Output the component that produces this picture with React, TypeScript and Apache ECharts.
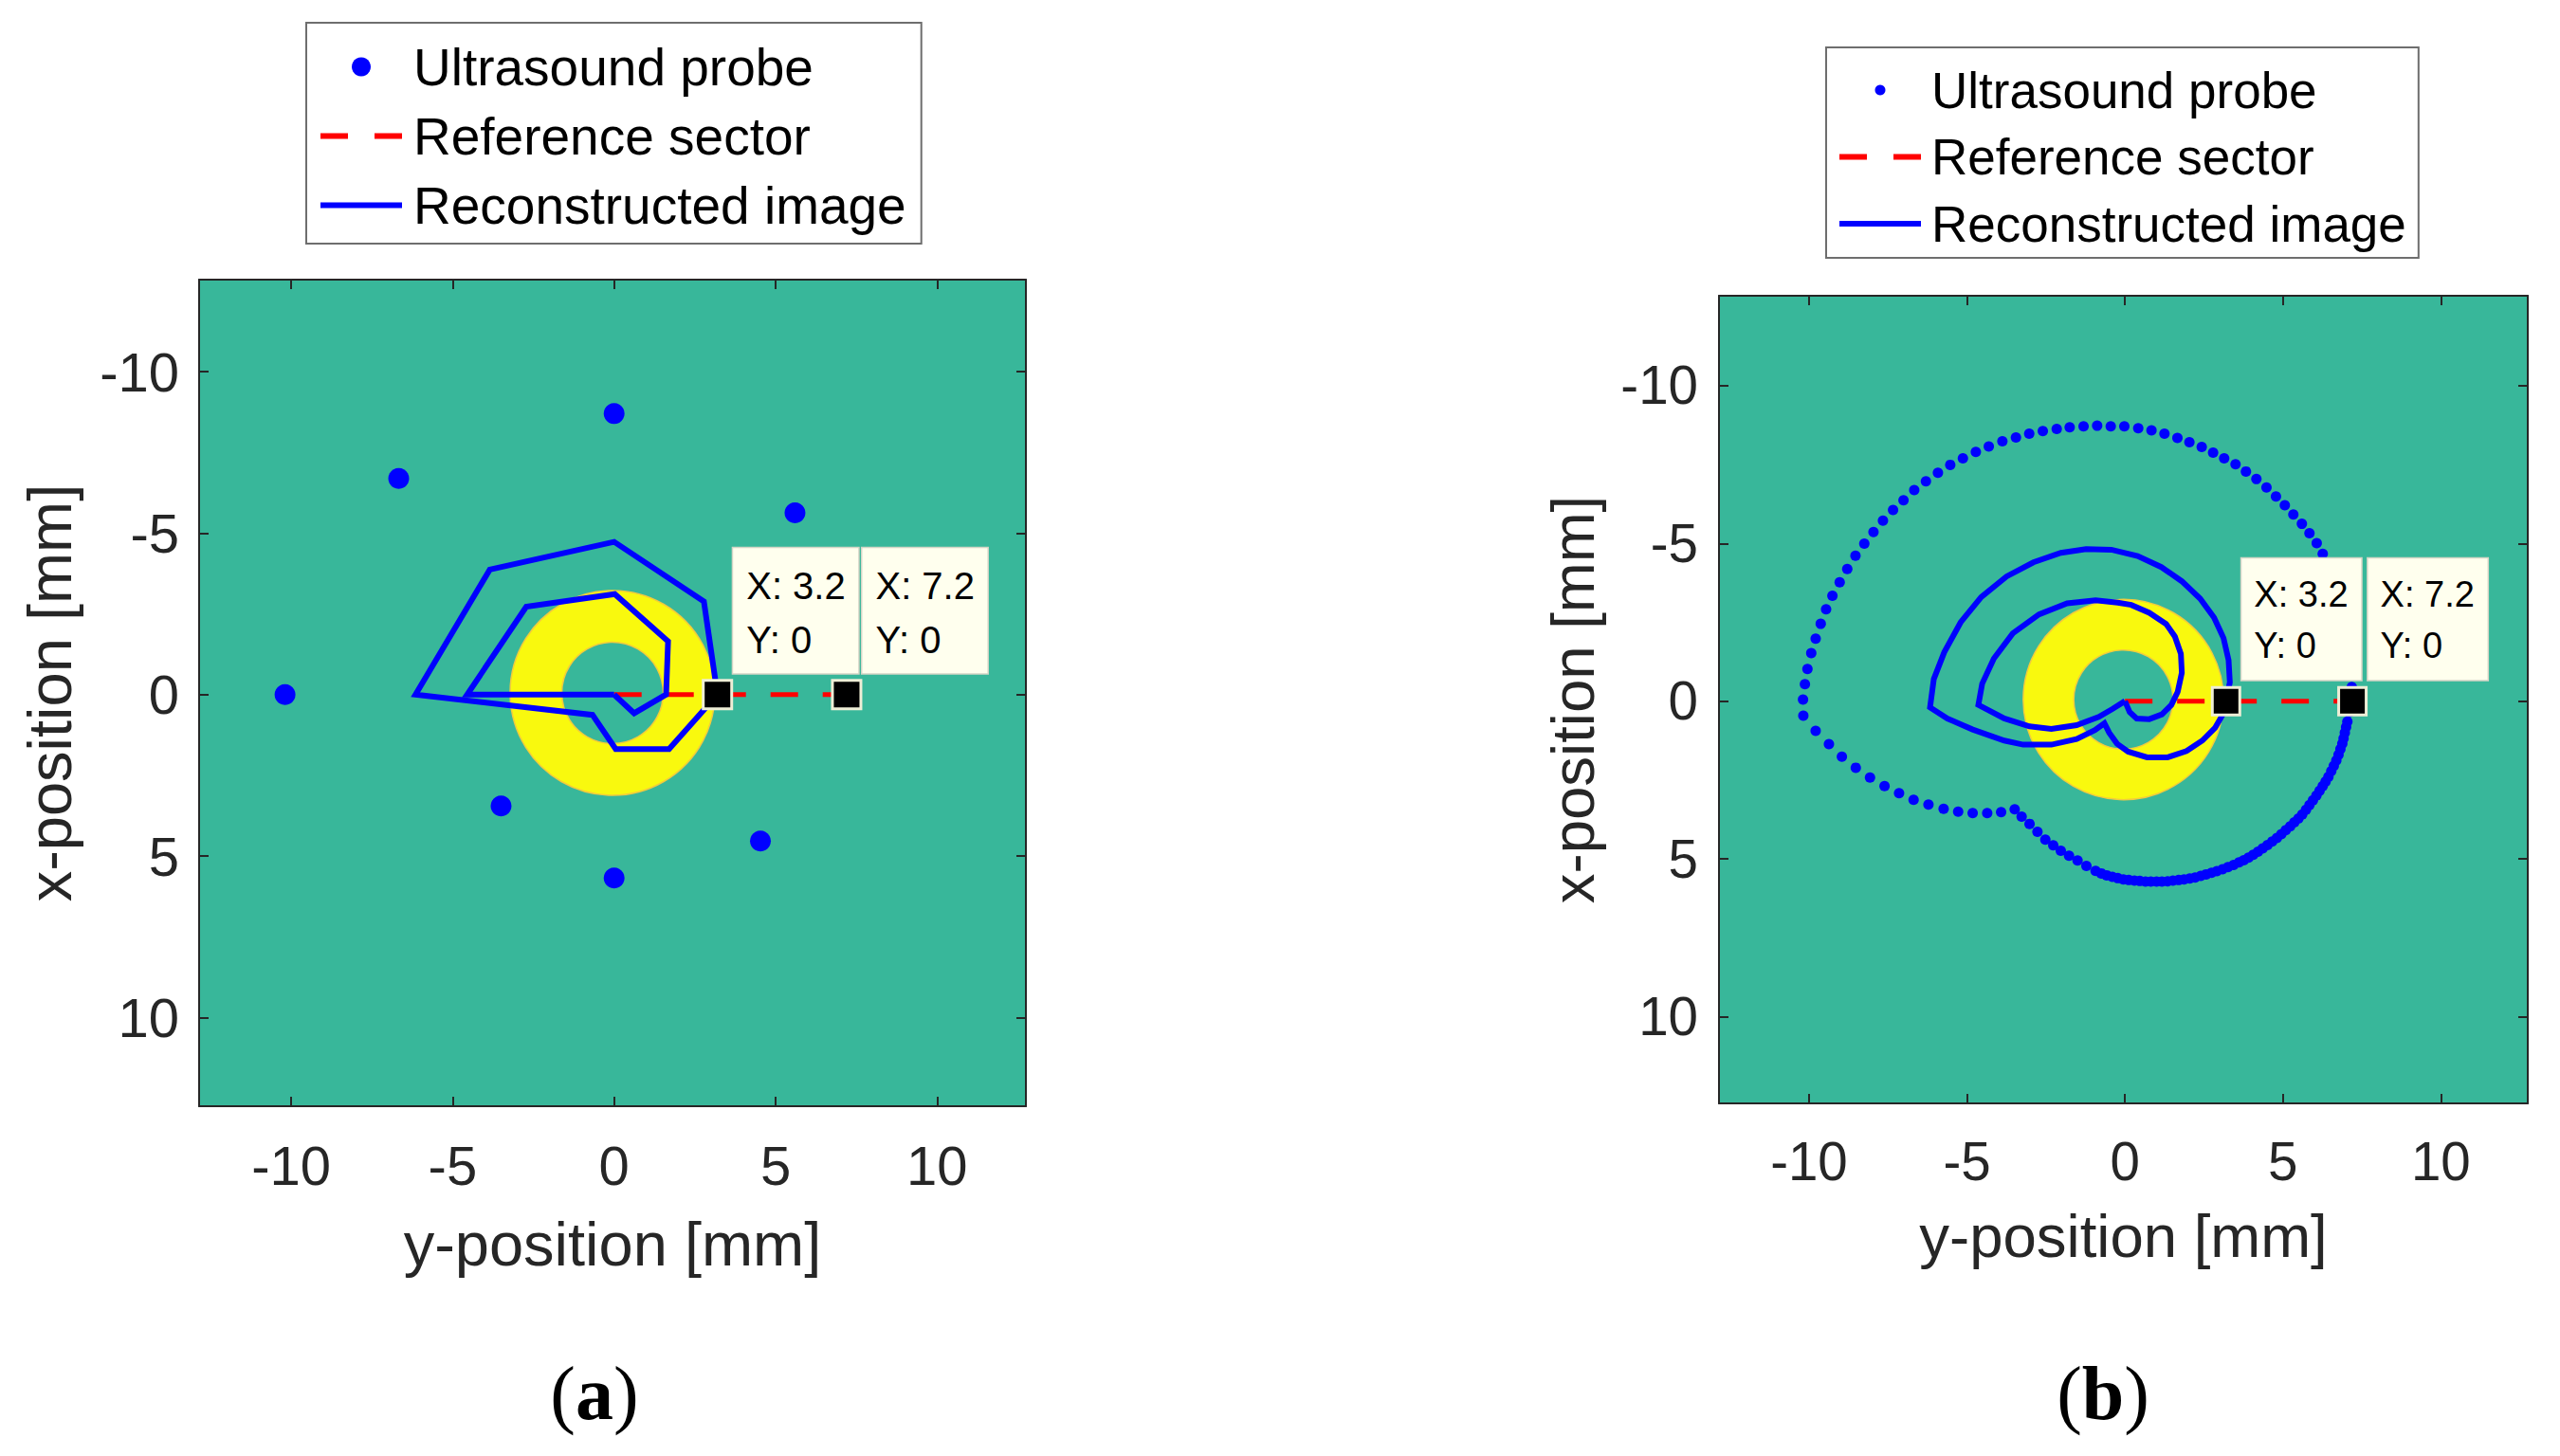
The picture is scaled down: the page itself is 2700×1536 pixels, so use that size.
import React, { useEffect, useRef } from "react";
import * as echarts from "echarts";

// ---------------- data ----------------
const AXIS_MIN = -12.85;
const AXIS_MAX = 12.75;
const TICK_VALUES = [-10, -5, 0, 5, 10];

// ring image: centre y, centre x, outer radius, inner radius (mm)
const ringImage = [[-0.05, -0.05, 3.17, 1.57]];

// reference sector end points and data tips
const referenceSector = [[0, 0], [7.2, 0]];
const dataTips = [[3.2, 0], [7.2, 0]];

// (a) probe positions
const probeA = [
  [0, -8.7], [-6.67, -6.69], [5.6, -5.63], [-10.19, 0],
  [-3.5, 3.45], [4.53, 4.54], [0, 5.68],
];

// (a) reconstructed contours
const reconOuterA = [
  [3.2, 0], [2.78, -2.88], [0, -4.73], [-3.85, -3.87], [-6.15, 0],
  [-0.67, 0.63], [0.05, 1.69], [1.7, 1.69], [3.2, 0],
];
const reconInnerA = [
  [0, 0], [0.62, 0.58], [1.61, 0], [1.67, -1.65], [0.02, -3.11],
  [-2.72, -2.72], [-4.55, 0], [0, 0],
];

// (b) probe trajectory (dense lower part)
const probeBLower = [
  [-3.49, 3.43], [-3.27, 3.66], [-3.02, 3.89], [-2.77, 4.14], [-2.52, 4.39],
  [-2.27, 4.57], [-2.03, 4.74], [-1.77, 4.9], [-1.5, 5.05], [-1.22, 5.22],
  [-0.93, 5.38], [-0.75, 5.46], [-0.58, 5.52], [-0.4, 5.57], [-0.23, 5.61],
  [-0.05, 5.65], [0.12, 5.67], [0.3, 5.69], [0.47, 5.7], [0.65, 5.72],
  [0.82, 5.72], [1.0, 5.72], [1.17, 5.72], [1.35, 5.71], [1.52, 5.69],
  [1.7, 5.67], [1.87, 5.65], [2.05, 5.62], [2.22, 5.59], [2.4, 5.54],
  [2.57, 5.49], [2.74, 5.44], [2.91, 5.39], [3.09, 5.33], [3.26, 5.26],
  [3.44, 5.19], [3.61, 5.11], [3.76, 5.04], [3.91, 4.96], [4.06, 4.87],
  [4.21, 4.77], [4.36, 4.67], [4.51, 4.56], [4.66, 4.45], [4.81, 4.34],
  [4.95, 4.22], [5.09, 4.09], [5.23, 3.97], [5.36, 3.84], [5.49, 3.72],
  [5.61, 3.59], [5.73, 3.44], [5.84, 3.29], [5.95, 3.14], [6.06, 2.99],
  [6.16, 2.84], [6.26, 2.69], [6.35, 2.55], [6.44, 2.4], [6.53, 2.22],
  [6.61, 2.05], [6.69, 1.88], [6.76, 1.7], [6.82, 1.52], [6.88, 1.35],
  [6.92, 1.18], [6.96, 1.0], [7.0, 0.82], [7.04, 0.65], [7.1, 0.35],
  [7.16, 0.05],
];
// (b) probe trajectory (sparse upper part, right -> top -> left -> bottom-left)
const probeBUpper = [
  [7.18, -0.45], [7.14, -1.05], [7.06, -1.7], [6.95, -2.35], [6.8, -3.0],
  [6.62, -3.6], [6.45, -4.15],
  [6.26, -4.67], [6.07, -5.01], [5.84, -5.32], [5.6, -5.62], [5.33, -5.92],
  [5.06, -6.21], [4.78, -6.49], [4.48, -6.77], [4.16, -7.04], [3.83, -7.28],
  [3.5, -7.51], [3.14, -7.7], [2.79, -7.88], [2.43, -8.06], [2.04, -8.21],
  [1.66, -8.34], [1.25, -8.48], [0.84, -8.58], [0.42, -8.65], [-0.02, -8.71],
  [-0.45, -8.71], [-0.88, -8.73], [-1.31, -8.71], [-1.75, -8.68], [-2.16, -8.63],
  [-2.6, -8.56], [-3.03, -8.48], [-3.45, -8.36], [-3.88, -8.24], [-4.31, -8.07],
  [-4.72, -7.9], [-5.13, -7.7], [-5.53, -7.49], [-5.92, -7.24], [-6.3, -6.97],
  [-6.67, -6.69], [-7.01, -6.37], [-7.34, -6.06], [-7.66, -5.72], [-7.96, -5.36],
  [-8.25, -4.99], [-8.53, -4.61], [-8.79, -4.19], [-9.03, -3.77], [-9.26, -3.34],
  [-9.46, -2.91], [-9.63, -2.45], [-9.79, -1.98], [-9.93, -1.52], [-10.05, -1.02],
  [-10.13, -0.54], [-10.19, -0.05], [-10.18, 0.46], [-9.79, 0.94], [-9.37, 1.36],
  [-8.96, 1.76], [-8.52, 2.11], [-8.07, 2.42], [-7.61, 2.69], [-7.15, 2.92],
  [-6.69, 3.13], [-6.22, 3.28], [-5.74, 3.41], [-5.28, 3.5], [-4.82, 3.55],
  [-4.36, 3.55], [-3.92, 3.52],
];

// (b) reconstructed contours
const reconOuterB = [
  [3.2, 0], [3.32, -0.6], [3.28, -1.3], [3.12, -2.0], [2.82, -2.65],
  [2.38, -3.25], [1.8, -3.8], [1.15, -4.25], [0.4, -4.6], [-0.43, -4.8],
  [-1.23, -4.82], [-2.03, -4.7], [-2.9, -4.4], [-3.75, -3.95], [-4.55, -3.3],
  [-5.2, -2.5], [-5.72, -1.55], [-6.05, -0.7], [-6.17, 0.2], [-5.62, 0.55],
  [-4.82, 0.9], [-3.82, 1.25], [-3.22, 1.38], [-2.33, 1.38], [-1.53, 1.2],
  [-0.95, 0.92], [-0.65, 0.7], [-0.5, 1.0], [-0.25, 1.35], [0.1, 1.6],
  [0.7, 1.78], [1.35, 1.78], [1.95, 1.58], [2.45, 1.25], [2.85, 0.85],
  [3.08, 0.45], [3.2, 0],
];
const reconInnerB = [
  [0, 0], [0.15, 0.35], [0.37, 0.55], [0.77, 0.57], [1.17, 0.42],
  [1.47, 0.12], [1.67, -0.3], [1.8, -0.9], [1.77, -1.5], [1.58, -2.05],
  [1.3, -2.45], [0.77, -2.8], [0.2, -3.05], [-0.23, -3.12], [-0.93, -3.2],
  [-1.83, -3.1], [-2.72, -2.75], [-3.55, -2.15], [-4.15, -1.35], [-4.52, -0.55],
  [-4.64, 0.12], [-3.82, 0.55], [-3.02, 0.8], [-2.33, 0.88], [-1.53, 0.76],
  [-0.83, 0.5], [-0.4, 0.25], [0, 0],
];

const LEGEND_NAMES = ["Ultrasound probe", "Reference sector", "Reconstructed image"];
const X_NAME = "y-position [mm]";
const Y_NAME = "x-position [mm]";

// ---------------- styles ----------------
const FONT = "'Liberation Sans', Arial, Helvetica, sans-serif";
const SERIF = "'Liberation Serif', 'DejaVu Serif', 'Times New Roman', serif";
const TEAL = "#38B79A";
const YELLOW = "#F9F90E";
const BLUE = "#0000FF";
const RED = "#FF0000";
const AXIS = "#262626";

const ICON_DASH = "path://M0 0H29V6H0Z M57 0H86V6H57Z";
const ICON_SOLID = "path://M0 0H86V6H0Z";

type Cfg = {
  grid: { left: number; top: number; width: number; height: number };
  tickFs: number;
  nameFs: number;
  labelMargin: number;
  ylabelMargin: number;
  xNameGap: number;
  yNameGap: number;
  legend: {
    left: number; top: number; fs: number; itemGap: number;
    padding: number[]; itemHeight: number; itemWidth: number; textPad: number;
  };
  probeSize: number;
  lineWidth: number;
  tipFs: number; tipLH: number; tipPad: number[]; tipW: number; markerSize: number;
  caption: { x: number; y: number; letter: string; fs: number };
  probe: number[][];
  outer: number[][];
  inner: number[][];
};

function makeOption(c: Cfg): any {
  const axisLine = { show: true, onZero: false, lineStyle: { color: AXIS, width: 2 } };
  const tick = {
    show: true, inside: true, length: 10, customValues: TICK_VALUES,
    lineStyle: { color: AXIS, width: 2 },
  };
  const label = {
    show: true, customValues: TICK_VALUES, fontSize: c.tickFs, color: AXIS, fontFamily: FONT,
  };
  const base = { type: "value", min: AXIS_MIN, max: AXIS_MAX, splitLine: { show: false } };
  const s = c.markerSize;
  return {
    animation: false,
    backgroundColor: "#ffffff",
    grid: {
      ...c.grid, show: true, backgroundColor: TEAL, borderWidth: 0, containLabel: false,
    },
    legend: {
      orient: "vertical",
      left: c.legend.left,
      top: c.legend.top,
      data: [
        { name: LEGEND_NAMES[0], icon: "circle", itemStyle: { color: BLUE, opacity: 1, borderWidth: 0 } },
        { name: LEGEND_NAMES[1], icon: ICON_DASH, itemStyle: { color: RED, opacity: 1, borderWidth: 0 } },
        { name: LEGEND_NAMES[2], icon: ICON_SOLID, itemStyle: { color: BLUE, opacity: 1, borderWidth: 0 } },
      ],
      itemWidth: c.legend.itemWidth,
      itemHeight: c.legend.itemHeight,
      itemGap: c.legend.itemGap,
      padding: c.legend.padding,
      backgroundColor: "#ffffff",
      borderColor: "#6e6e6e",
      borderWidth: 2,
      selectedMode: false,
      textStyle: {
        fontSize: c.legend.fs, lineHeight: c.legend.fs, color: "#000000", fontFamily: FONT,
        padding: [0, 0, 0, c.legend.textPad],
      },
    },
    xAxis: [
      {
        ...base, position: "bottom", axisLine, axisTick: tick,
        axisLabel: { ...label, margin: c.labelMargin },
        name: X_NAME, nameLocation: "middle", nameGap: c.xNameGap,
        nameTextStyle: { fontSize: c.nameFs, color: AXIS, fontFamily: FONT },
      },
      { ...base, position: "top", axisLine, axisTick: tick, axisLabel: { show: false } },
    ],
    yAxis: [
      {
        ...base, inverse: true, position: "left", axisLine, axisTick: tick,
        axisLabel: { ...label, margin: c.ylabelMargin },
        name: Y_NAME, nameLocation: "middle", nameGap: c.yNameGap, nameRotate: 90,
        nameTextStyle: { fontSize: c.nameFs, color: AXIS, fontFamily: FONT },
      },
      { ...base, inverse: true, position: "right", axisLine, axisTick: tick, axisLabel: { show: false } },
    ],
    graphic: [
      {
        type: "text",
        x: c.caption.x,
        y: c.caption.y,
        style: {
          text: "{p|(}{b|" + c.caption.letter + "}{p|)}",
          align: "center",
          verticalAlign: "middle",
          rich: {
            p: { fontSize: c.caption.fs, fontFamily: SERIF, fill: "#000" },
            b: { fontSize: c.caption.fs, fontFamily: SERIF, fontWeight: "bold", fill: "#000" },
          },
        },
      },
    ],
    series: [
      {
        type: "custom",
        name: "image",
        silent: true,
        z: 1,
        encode: { x: 0, y: 1 },
        data: ringImage,
        renderItem: (params: any, api: any) => {
          const ctr = api.coord([api.value(0), api.value(1)]);
          const ro = api.size([api.value(2), 0])[0];
          const ri = api.size([api.value(3), 0])[0];
          return {
            type: "ring",
            shape: { cx: ctr[0], cy: ctr[1], r: ro, r0: ri },
            style: { fill: YELLOW, stroke: "#F2CB3E", lineWidth: 1.5 },
          };
        },
      },
      {
        name: LEGEND_NAMES[0],
        type: "scatter",
        data: c.probe,
        symbol: "circle",
        symbolSize: c.probeSize,
        itemStyle: { color: BLUE, opacity: 1 },
        z: 3,
      },
      {
        name: LEGEND_NAMES[1],
        type: "line",
        data: referenceSector,
        symbol: "none",
        showSymbol: false,
        lineStyle: { color: RED, width: 5, type: [29, 26], cap: "butt" },
        itemStyle: { color: RED },
        z: 4,
      },
      {
        name: LEGEND_NAMES[2],
        type: "line",
        data: c.outer,
        symbol: "none",
        showSymbol: false,
        lineStyle: { color: BLUE, width: c.lineWidth, join: "miter" },
        itemStyle: { color: BLUE },
        z: 5,
      },
      {
        name: LEGEND_NAMES[2],
        type: "line",
        data: c.inner,
        symbol: "none",
        showSymbol: false,
        lineStyle: { color: BLUE, width: c.lineWidth, join: "miter" },
        itemStyle: { color: BLUE },
        z: 5,
      },
      {
        name: "datatip",
        type: "scatter",
        data: dataTips,
        symbol: "rect",
        symbolSize: s,
        itemStyle: { color: "#000000", borderColor: "#EEEED6", borderWidth: 3, opacity: 1 },
        z: 10,
        label: {
          show: true,
          position: [s / 2 + 18, s / 2 - 21],
          align: "left",
          verticalAlign: "bottom",
          formatter: (p: any) => "X: " + p.value[0] + "\nY: " + p.value[1],
          fontSize: c.tipFs,
          lineHeight: c.tipLH,
          fontFamily: FONT,
          color: "#000000",
          opacity: 1,
          backgroundColor: "#FFFFEE",
          borderColor: "#D5D5C6",
          borderWidth: 1.5,
          padding: c.tipPad,
          width: c.tipW,
        },
      },
    ],
  };
}

const cfgA: Cfg = {
  grid: { left: 210, top: 295, width: 872, height: 872 },
  tickFs: 58, nameFs: 65, labelMargin: 33, ylabelMargin: 21, xNameGap: 113, yNameGap: 125,
  legend: { left: 323, top: 24, fs: 55, itemGap: 18, padding: [19, 16, 13, 15], itemHeight: 20, itemWidth: 86, textPad: 7 },
  probeSize: 22, lineWidth: 6,
  tipFs: 40, tipLH: 57, tipPad: [11, 13, 7, 14], tipW: 105, markerSize: 30,
  caption: { x: 627, y: 1470, letter: "a", fs: 80 },
  probe: probeA, outer: reconOuterA, inner: reconInnerA,
};

const cfgB: Cfg = {
  grid: { left: 463, top: 312, width: 853, height: 852 },
  tickFs: 56.5, nameFs: 63.5, labelMargin: 33, ylabelMargin: 22, xNameGap: 108, yNameGap: 122,
  legend: { left: 576, top: 50, fs: 53, itemGap: 17.5, padding: [18.5, 13, 9.5, 14], itemHeight: 11, itemWidth: 86, textPad: 6 },
  probeSize: 11, lineWidth: 6,
  tipFs: 38, tipLH: 54, tipPad: [11, 13, 9, 13], tipW: 100, markerSize: 29,
  caption: { x: 868, y: 1470, letter: "b", fs: 80 },
  probe: [...probeBLower, ...probeBUpper], outer: reconOuterB, inner: reconInnerB,
};

function Panel({ cfg, left }: { cfg: Cfg; left: number }) {
  const ref = useRef<HTMLDivElement>(null);
  useEffect(() => {
    if (!ref.current) return;
    const chart = echarts.init(ref.current, undefined, { renderer: "svg" });
    chart.setOption(makeOption(cfg));
    return () => chart.dispose();
  }, [cfg]);
  return (
    <div
      ref={ref}
      style={{ position: "fixed", left, top: 0, width: 1350, height: 1536, background: "#fff" }}
    />
  );
}

export default function App() {
  return (
    <div style={{ position: "fixed", left: 0, top: 0, width: 2700, height: 1536, background: "#fff" }}>
      <Panel cfg={cfgA} left={0} />
      <Panel cfg={cfgB} left={1350} />
    </div>
  );
}
